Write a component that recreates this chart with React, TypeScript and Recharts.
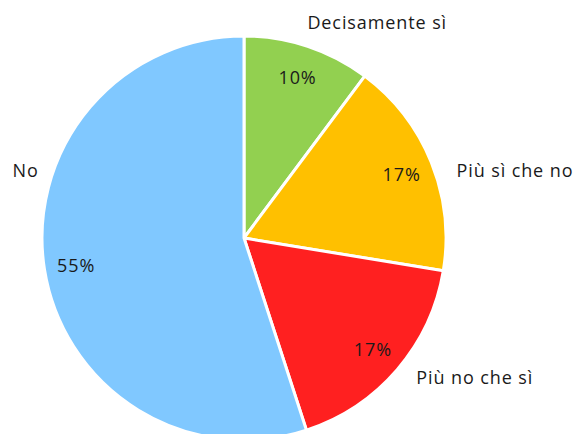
import React from "react";
import { PieChart, Pie, Cell } from "recharts";

const categories = ["Decisamente sì", "Più sì che no", "Più no che sì", "No"];
const values = [10.2, 17.4, 17.4, 55.0];
const colors = ["#92D050", "#FFC000", "#FF2020", "#80C8FF"];

// fine placement of the category names, like in the original sheet
const nameNudge = [
  [-4, -13],
  [14, 12],
  [10, 0],
  [6, -101],
];

const RADIAN = Math.PI / 180;
const FONT = "Open Sans, Liberation Sans, sans-serif";

const data = categories.map((name, i) => ({ name, value: values[i] }));

function renderLabel(props: any) {
  const { cx, cy, midAngle, outerRadius, index, value, name } = props;
  const cos = Math.cos(-midAngle * RADIAN);
  const sin = Math.sin(-midAngle * RADIAN);
  const ix = cx + 170 * cos;
  const iy = cy + 170 * sin;
  const ox = cx + (outerRadius + 12) * cos + nameNudge[index][0];
  const oy = cy + (outerRadius + 12) * sin + nameNudge[index][1];
  return (
    <g>
      <text
        x={ix}
        y={iy}
        textAnchor="middle"
        dominantBaseline="central"
        fill="#1a1a1a"
        fontSize={18}
        letterSpacing={0.9}
        fontFamily={FONT}
      >
        {`${Math.round(value)}%`}
      </text>
      <text
        x={ox}
        y={oy}
        textAnchor={cos >= 0 ? "start" : "end"}
        dominantBaseline="central"
        fill="#1a1a1a"
        fontSize={18}
        letterSpacing={0.9}
        fontFamily={FONT}
      >
        {name}
      </text>
    </g>
  );
}

export default function App() {
  return (
    <div style={{ position: "absolute", left: 0, top: 0, background: "#fff" }}>
      <PieChart
        width={576}
        height={434}
        margin={{ top: 0, right: 0, bottom: 0, left: 0 }}
      >
        <Pie
          data={data}
          dataKey="value"
          nameKey="name"
          cx={244}
          cy={238}
          outerRadius={202}
          startAngle={90}
          endAngle={-270}
          stroke="#fff"
          strokeWidth={3}
          label={renderLabel}
          labelLine={false}
          isAnimationActive={false}
        >
          {data.map((d, i) => (
            <Cell key={d.name} fill={colors[i]} />
          ))}
        </Pie>
      </PieChart>
    </div>
  );
}
